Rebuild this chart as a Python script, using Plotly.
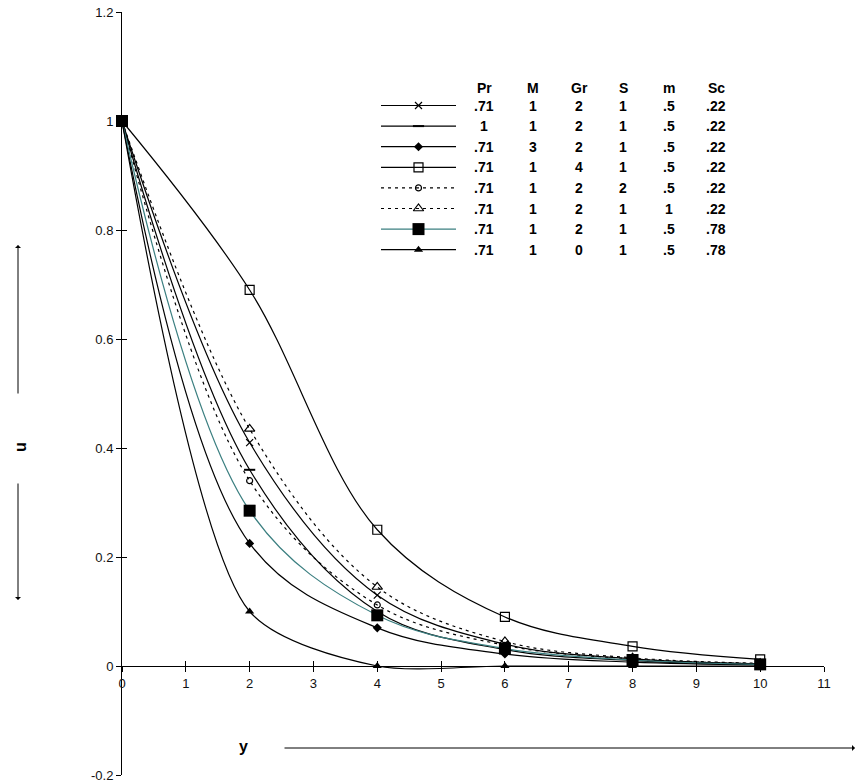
import plotly.graph_objects as go

# ---------------- data ----------------
y_pos = [0, 2, 4, 6, 8, 10]
u_pr071 = [1, 0.41, 0.13, 0.040, 0.013, 0.004]      # x marker
u_pr1 = [1, 0.36, 0.10, 0.030, 0.010, 0.003]        # dash marker
u_m3 = [1, 0.225, 0.07, 0.022, 0.007, 0.002]        # diamond
u_gr4 = [1, 0.69, 0.25, 0.090, 0.036, 0.012]        # open square
u_s2 = [1, 0.34, 0.112, 0.038, 0.013, 0.004]        # dotted, small circle
u_m1 = [1, 0.435, 0.145, 0.045, 0.015, 0.005]       # dotted, open triangle
u_sc78 = [1, 0.285, 0.093, 0.032, 0.011, 0.003]     # filled square, teal
u_gr0 = [1, 0.10, 0.0, 0.0, 0.0, 0.0]               # filled triangle

x_ticks = list(range(0, 12))
y_tickvals = [-0.2, 0, 0.2, 0.4, 0.6, 0.8, 1.0, 1.2]
y_ticktext = ["-0.2", "0", "0.2", "0.4", "0.6", "0.8", "1", "1.2"]

legend_header = ["Pr", "M", "Gr", "S", "m", "Sc"]
legend_rows = [
    [".71", "1", "2", "1", ".5", ".22"],
    ["1", "1", "2", "1", ".5", ".22"],
    [".71", "3", "2", "1", ".5", ".22"],
    [".71", "1", "4", "1", ".5", ".22"],
    [".71", "1", "2", "2", ".5", ".22"],
    [".71", "1", "2", "1", "1", ".22"],
    [".71", "1", "2", "1", ".5", ".78"],
    [".71", "1", "0", "1", ".5", ".78"],
]

# ---------------- styles ----------------
TEAL = "#3b7f80"
series = [
    (u_pr071, dict(symbol="x-thin", size=7, color="black", line=dict(width=1.2, color="black")), "black", "solid", 1.0),
    (u_pr1, dict(symbol="line-ew", size=8, color="black", line=dict(width=2, color="black")), "black", "solid", 1.0),
    (u_m3, dict(symbol="diamond", size=7, color="black", line=dict(width=0)), "black", "solid", 1.0),
    (u_gr4, dict(symbol="square-open", size=9, color="black", line=dict(width=1.2, color="black")), "black", "solid", 1.0),
    (u_s2, dict(symbol="circle-open", size=6, color="black", line=dict(width=1.2, color="black")), "black", "3px,4px", 1.0),
    (u_m1, dict(symbol="triangle-up-open", size=9, color="black", line=dict(width=1.2, color="black")), "black", "3px,4px", 1.0),
    (u_sc78, dict(symbol="square", size=12, color="black", line=dict(width=0)), TEAL, "solid", 1.0),
    (u_gr0, dict(symbol="triangle-up", size=8, color="black", line=dict(width=0)), "black", "solid", 0.75),
]

W, H = 859, 784
ML, MR, MT, MB = 122, 35, 12, 9
PW, PH = W - ML - MR, H - MT - MB


def px(xp):
    return (xp - ML) / PW


def py(yp):
    return (H - MB - yp) / PH


fig = go.Figure()

for vals, mk, lc, dash, sm in series:
    fig.add_trace(go.Scatter(
        x=y_pos, y=vals, mode="lines+markers",
        line=dict(color=lc, width=1.2, dash=dash, shape="spline", smoothing=sm),
        marker=mk, cliponaxis=False, showlegend=False, hoverinfo="skip"))

# ---------------- custom table legend ----------------
LX0, LX1 = 381, 456
LXM = (LX0 + LX1) / 2
ROW0, ROWDY = 105.5, 20.6
HEAD_Y = 88
COLS = [484, 533, 579, 623, 669, 716]

for i, (vals, mk, lc, dash, sm) in enumerate(series):
    ry = ROW0 + i * ROWDY
    fig.add_trace(go.Scatter(
        x=[LX0, LX1], y=[ry, ry], mode="lines", xaxis="x3", yaxis="y3",
        line=dict(color=lc, width=1.2, dash=dash), showlegend=False, hoverinfo="skip"))
    fig.add_trace(go.Scatter(
        x=[LXM], y=[ry], mode="markers", xaxis="x3", yaxis="y3",
        marker=mk, showlegend=False, hoverinfo="skip"))

annotations = []
FONT = "Liberation Sans, Arial, sans-serif"
LFONT = dict(family=FONT, size=14, color="black")
for c, t in zip(COLS, legend_header):
    annotations.append(dict(x=c, y=HEAD_Y, xref="x3", yref="y3", text="<b>%s</b>" % t,
                            showarrow=False, font=LFONT, xanchor="center", yanchor="middle"))
for i, row in enumerate(legend_rows):
    ry = ROW0 + i * ROWDY
    for c, t in zip(COLS, row):
        annotations.append(dict(x=c, y=ry, xref="x3", yref="y3", text="<b>%s</b>" % t,
                                showarrow=False, font=LFONT, xanchor="center", yanchor="middle"))

# axis titles with arrows
annotations.append(dict(x=px(243), y=py(746), xref="paper", yref="paper", text="<b>y</b>",
                        xanchor="center", yanchor="middle",
                        showarrow=False, font=dict(family=FONT, size=16, color="black")))
annotations.append(dict(x=px(855), y=py(748), xref="paper", yref="paper", text="",
                        showarrow=True, axref="pixel", ayref="pixel", ax=-572, ay=0,
                        arrowhead=1, arrowsize=1, arrowwidth=1, arrowcolor="black"))
annotations.append(dict(x=px(21), y=py(447), xref="paper", yref="paper", text="<b>u</b>",
                        xanchor="center", yanchor="middle",
                        textangle=-90, showarrow=False, font=dict(family=FONT, size=16, color="black")))
annotations.append(dict(x=px(18), y=py(245), xref="paper", yref="paper", text="",
                        showarrow=True, axref="pixel", ayref="pixel", ax=0, ay=150,
                        arrowhead=1, arrowsize=1, arrowwidth=1, arrowcolor="black"))
annotations.append(dict(x=px(18), y=py(600), xref="paper", yref="paper", text="",
                        showarrow=True, axref="pixel", ayref="pixel", ax=0, ay=-118,
                        arrowhead=1, arrowsize=1, arrowwidth=1, arrowcolor="black"))

ZERO_POS = (0 - y_tickvals[0]) / (y_tickvals[-1] - y_tickvals[0])
tickfont = dict(family=FONT, size=13, color="#111111")

fig.update_layout(
    width=W, height=H, margin=dict(l=ML, r=MR, t=MT, b=MB, autoexpand=False),
    paper_bgcolor="white", plot_bgcolor="white",
    annotations=annotations,
    xaxis=dict(range=[0, 11], domain=[0, 1], anchor="free", position=ZERO_POS,
               tickvals=x_ticks, ticktext=[str(v) for v in x_ticks],
               showline=True, linecolor="black", linewidth=1,
               ticks="outside", ticklen=5, tickwidth=1, tickcolor="black",
               showgrid=False, zeroline=False, tickfont=tickfont, automargin=False),
    xaxis2=dict(range=[0, 11], overlaying="x", anchor="free", position=ZERO_POS,
                tickvals=x_ticks, showticklabels=False, showline=False,
                ticks="inside", ticklen=5, tickwidth=1, tickcolor="black",
                showgrid=False, zeroline=False, automargin=False),
    yaxis=dict(range=[-0.2, 1.2], domain=[0, 1], anchor="x",
               tickvals=y_tickvals, ticktext=y_ticktext,
               showline=True, linecolor="black", linewidth=1,
               ticks="outside", ticklen=5, tickwidth=1, tickcolor="black",
               showgrid=False, zeroline=False, tickfont=tickfont, automargin=False),
    yaxis2=dict(range=[-0.2, 1.2], overlaying="y", anchor="x",
                tickvals=y_tickvals, showticklabels=False, showline=False,
                ticks="inside", ticklen=5, tickwidth=1, tickcolor="black",
                showgrid=False, zeroline=False, automargin=False),
    xaxis3=dict(range=[ML, W - MR], overlaying="x", visible=False, anchor="y3", automargin=False),
    yaxis3=dict(range=[H - MB, MT], overlaying="y", visible=False, anchor="x3", automargin=False),
)

# invisible carriers so the overlay tick axes are drawn
fig.add_trace(go.Scatter(x=[None], y=[None], xaxis="x2", yaxis="y2",
                         showlegend=False, hoverinfo="skip"))

fig.write_html("out.html")
